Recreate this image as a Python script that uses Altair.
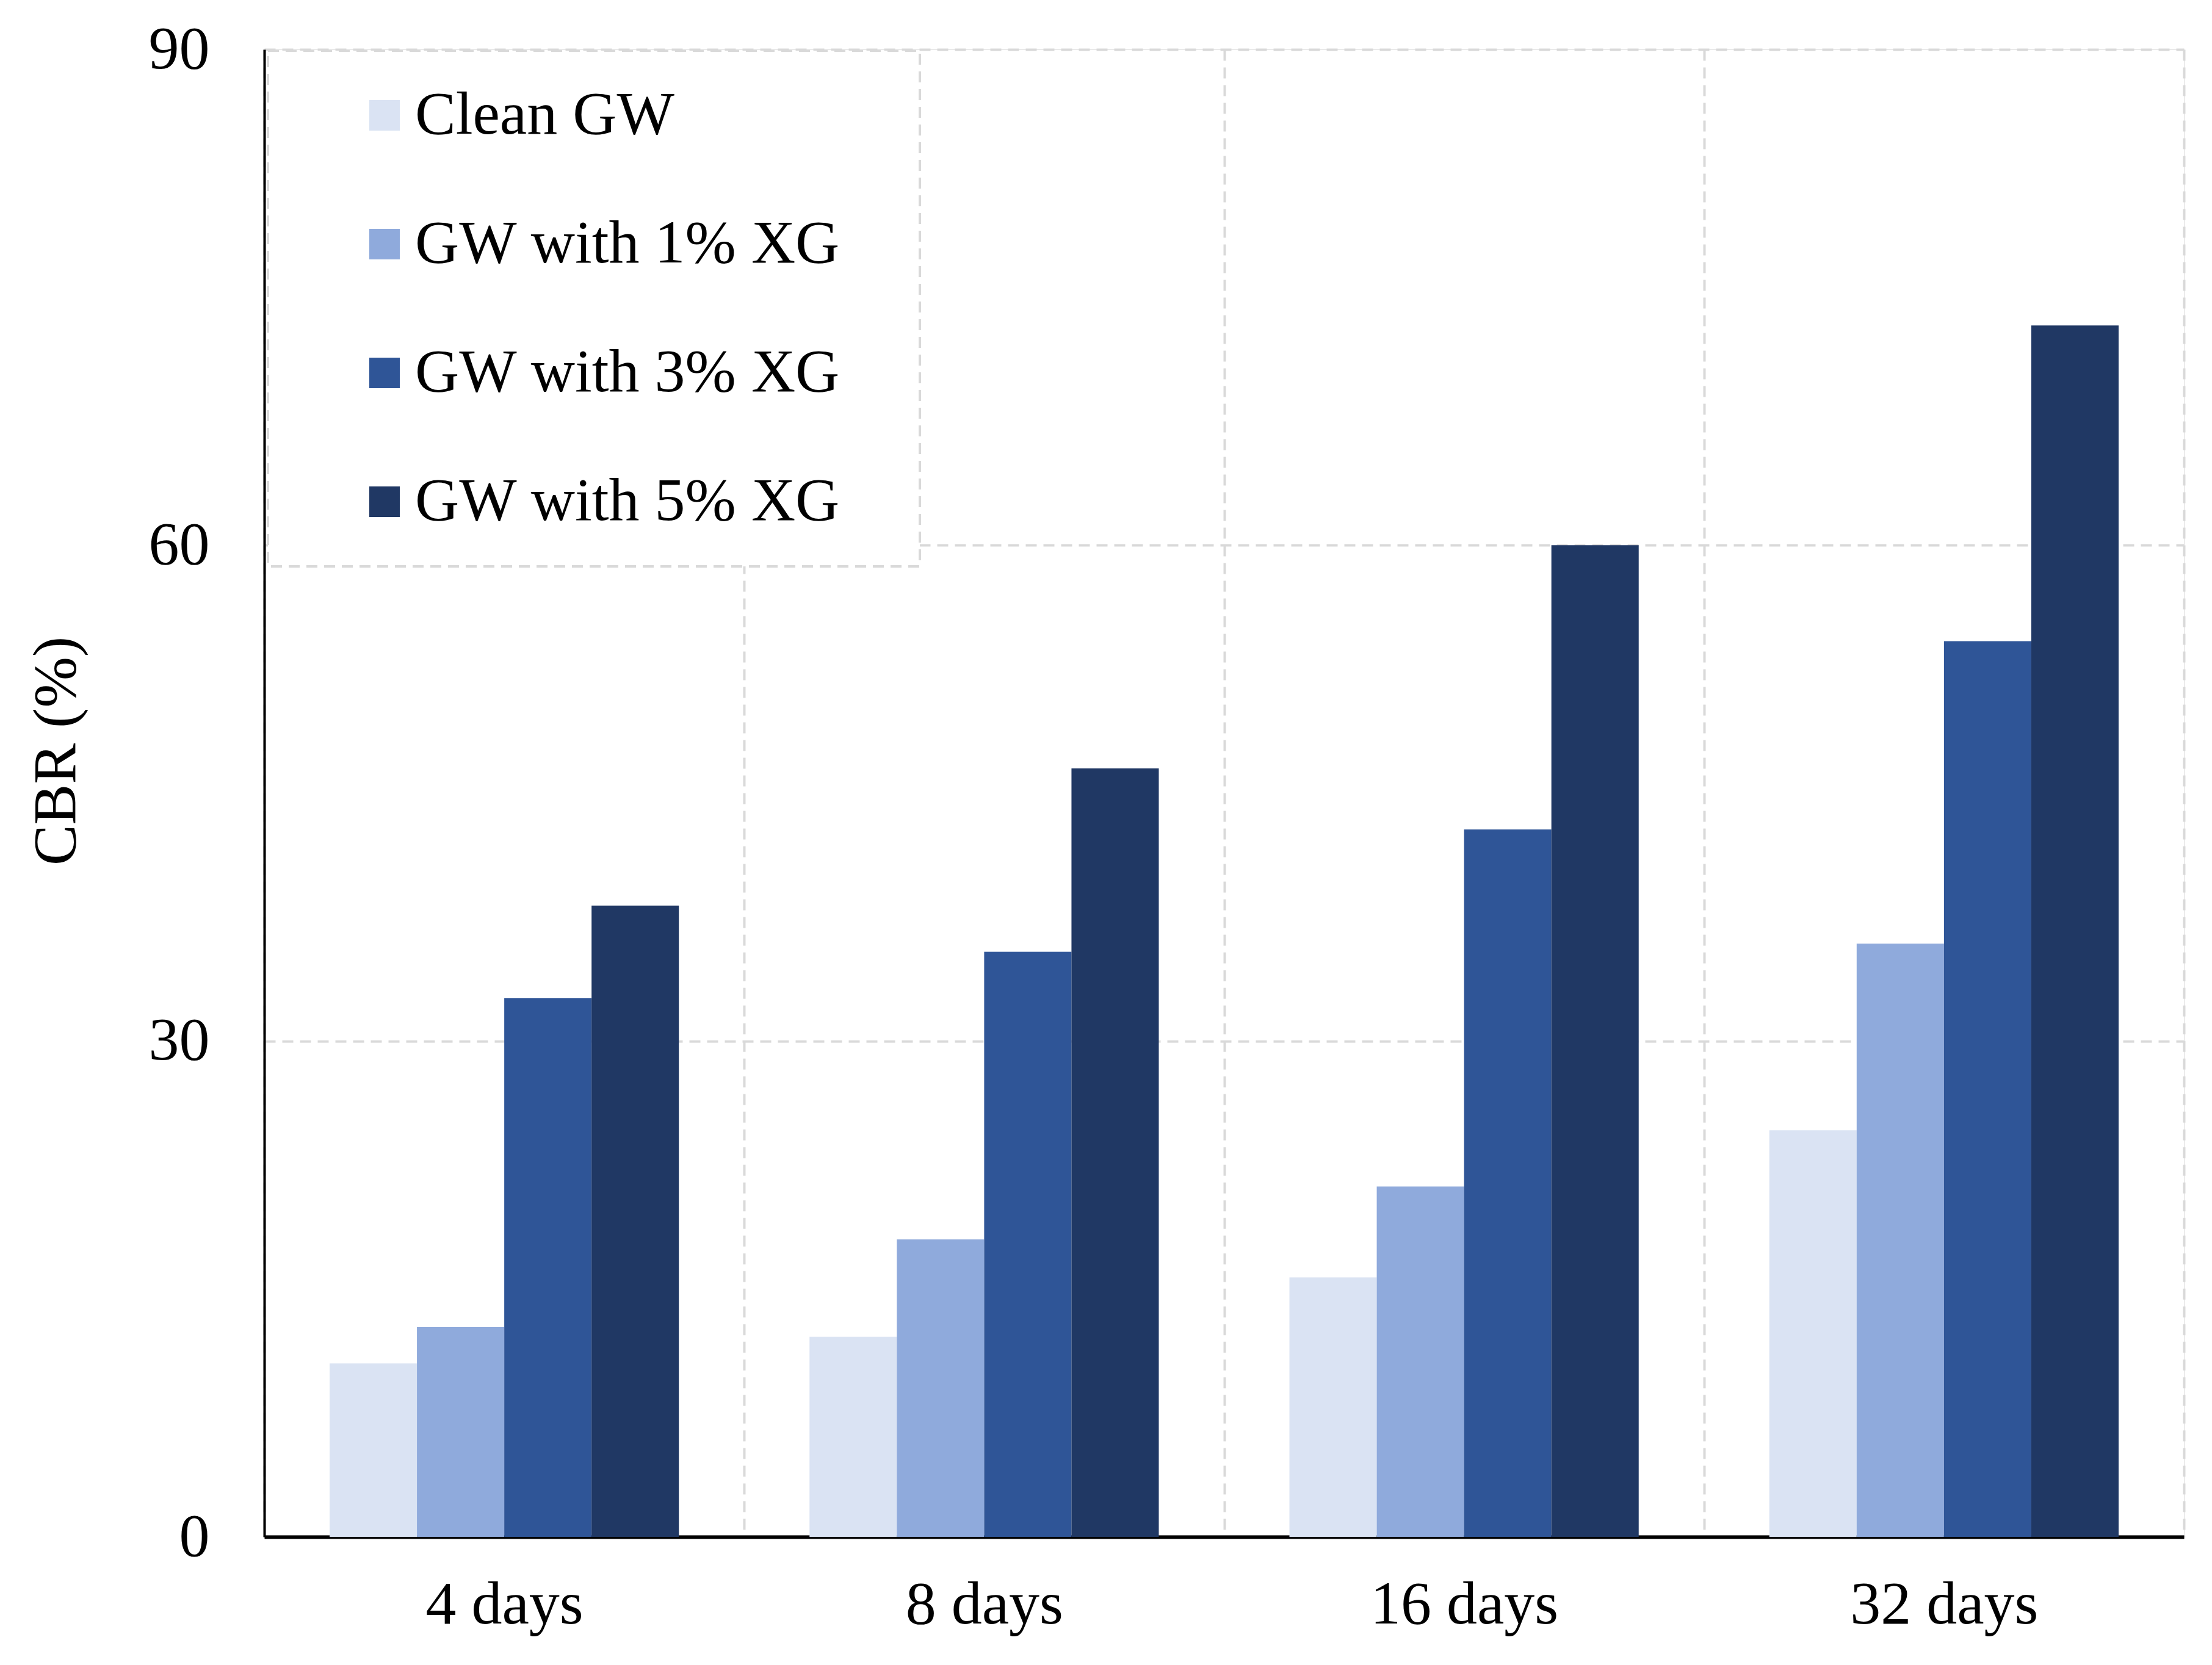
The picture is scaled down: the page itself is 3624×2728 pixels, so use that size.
import altair as alt
import pandas as pd

categories = ["4 days", "8 days", "16 days", "32 days"]
series = ["Clean GW", "GW with 1% XG", "GW with 3% XG", "GW with 5% XG"]
clean_gw = [10.5, 12.1, 15.7, 24.6]
xg_1 = [12.7, 18.0, 21.2, 35.9]
xg_3 = [32.6, 35.4, 42.8, 54.2]
xg_5 = [38.2, 46.5, 60.0, 73.3]
colors = ["#dae3f3", "#8faadc", "#2f5597", "#203864"]
y_ticks = [0, 30, 60, 90]

rows = []
for s, vals in zip(series, [clean_gw, xg_1, xg_3, xg_5]):
    for c, v in zip(categories, vals):
        rows.append({"Age": c, "Series": s, "CBR": v})
df = pd.DataFrame(rows)

FONT = "Liberation Serif"
GRID = "#d9d9d9"
DASH = [18, 11]

chart = alt.Chart(df).mark_bar().encode(
    x=alt.X(
        "Age:N",
        sort=categories,
        scale=alt.Scale(paddingInner=0, paddingOuter=0),
        axis=alt.Axis(
            title=None,
            tickBand="extent",
            ticks=False,
            grid=True,
            gridColor=GRID,
            gridDash=DASH,
            gridWidth=4,
            domainColor="black",
            domainWidth=6,
            labelFont=FONT,
            labelFontSize=100,
            labelColor="black",
            labelPadding=62,
            labelAngle=0,
            labelLimit=2000,
        ),
    ),
    xOffset=alt.XOffset(
        "Series:N",
        sort=series,
        scale=alt.Scale(paddingInner=0, paddingOuter=0.748),
    ),
    y=alt.Y(
        "CBR:Q",
        scale=alt.Scale(domain=[0, 90], nice=False),
        axis=alt.Axis(
            title="CBR (%)",
            values=y_ticks,
            ticks=False,
            grid=True,
            gridColor=GRID,
            gridDash=DASH,
            gridWidth=4,
            domainColor="black",
            domainWidth=4,
            labelFont=FONT,
            labelFontSize=100,
            labelColor="black",
            labelPadding=90,
            titleFont=FONT,
            titleFontSize=100,
            titleFontWeight="normal",
            titleColor="black",
            titleAngle=270,
            titleAlign="center",
            titleBaseline="middle",
            titleX=-341,
            titleY=1149,
        ),
    ),
    color=alt.Color(
        "Series:N",
        sort=series,
        scale=alt.Scale(domain=series, range=colors),
        legend=alt.Legend(
            title=None,
            orient="none",
            legendX=6,
            legendY=2,
            fillColor="white",
            strokeColor=GRID,
            padding=56,
            symbolType="square",
            symbolSize=2500,
            symbolStrokeWidth=0,
            symbolOffset=85,
            labelOffset=0,
            labelFont=FONT,
            labelFontSize=100,
            labelColor="black",
            labelLimit=2000,
            labelExpr="datum.label + '\u2800'",
            rowPadding=111,
        ),
    ),
).properties(
    width=3145,
    height=2437,
    autosize=alt.AutoSizeParams(type="none"),
    padding={"left": 425, "top": 73, "right": 38, "bottom": 202},
).configure_view(stroke=None).configure(background="white").configure_legend(
    strokeDash=DASH, strokeWidth=4
)

chart.save("out.html", embed_options={"renderer": "svg", "actions": False})
